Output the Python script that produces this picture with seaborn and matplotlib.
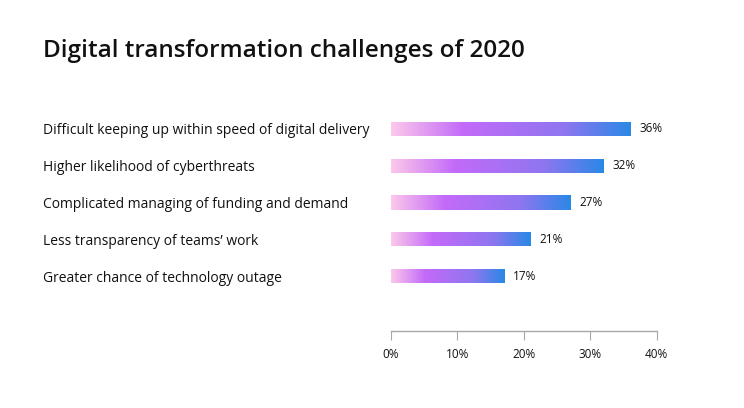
import numpy as np
import pandas as pd
import matplotlib
matplotlib.use("Agg")
import matplotlib.pyplot as plt
from matplotlib.colors import LinearSegmentedColormap
import seaborn as sns

categories = [
    "Difficult keeping up within speed of digital delivery",
    "Higher likelihood of cyberthreats",
    "Complicated managing of funding and demand",
    "Less transparency of teams\u2019 work",
    "Greater chance of technology outage",
]
values = [36, 32, 27, 21, 17]
ticks = [0, 10, 20, 30, 40]

sns.set_style("white")
plt.rcParams['font.family'] = ['Open Sans', 'DejaVu Sans']

grad = LinearSegmentedColormap.from_list(
    "bar_grad",
    [(0.0, "#fcc8ea"), (0.3, "#c36af9"), (0.72, "#8f76f0"), (1.0, "#2a88e6")],
)

df = pd.DataFrame({"challenge": categories, "pct": values})

fig = plt.figure(figsize=(7.44, 4.08), dpi=100)
ax = fig.add_axes([0.525, 0.1887, 0.3575, 0.5412])

sns.barplot(data=df, x="pct", y="challenge", orient="h", width=0.38,
            color="white", ax=ax)

# fill each bar with a horizontal gradient
strip = np.linspace(0, 1, 256).reshape(1, -1)
for patch in ax.patches:
    x0, y0 = patch.get_x(), patch.get_y()
    w, h = patch.get_width(), patch.get_height()
    patch.set_facecolor("none")
    patch.set_edgecolor("none")
    im = ax.imshow(strip, cmap=grad, aspect="auto",
                   extent=[x0, x0 + w, y0 + h, y0], zorder=2)
    im.set_clip_path(patch)

for i, v in enumerate(values):
    ax.text(v + 1.4, i, f"{v}%", va="center", ha="left", fontsize=8.5,
            color="#111111")

ax.set_xlim(0, 40)
ax.set_ylim(4 + 1.48, -0.5)
ax.set_xticks(ticks)
ax.set_xticklabels([f"{t}%" for t in ticks], fontsize=8.5, color="#111111")
ax.tick_params(axis="x", length=6.5, width=0.8, color="#a8a8a8", pad=6,
               direction="out", bottom=True)
ax.tick_params(axis="y", length=0, pad=250)
for lbl in ax.get_yticklabels():
    lbl.set_ha("left")
    lbl.set_fontsize(10)
    lbl.set_color("#111111")

sns.despine(ax=ax, left=True, top=True, right=True)
ax.spines["bottom"].set_color("#a8a8a8")
ax.spines["bottom"].set_linewidth(1.0)
ax.set_xlabel("")
ax.set_ylabel("")

fig.text(43 / 744, 1 - 51 / 408, "Digital transformation challenges of 2020",
         fontsize=17.5, fontweight="semibold", color="#111111",
         ha="left", va="center")

fig.savefig("out.png", dpi=100, facecolor="white")
